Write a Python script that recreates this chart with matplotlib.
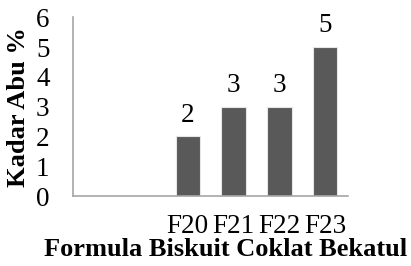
import matplotlib
matplotlib.use("Agg")
import matplotlib.pyplot as plt

categories = ["", "", "F20", "F21", "F22", "F23"]
values = [None, None, 2, 3, 3, 5]
value_labels = ["", "", "2", "3", "3", "5"]
y_ticks = [0, 1, 2, 3, 4, 5, 6]

plt.rcParams['font.family'] = ['Liberation Serif', 'DejaVu Serif']
FS = 19.5

fig = plt.figure(figsize=(4.11, 2.66), dpi=100)
ax = fig.add_axes([0.178, 0.263, 0.669, 0.672])

xs = list(range(len(categories)))
bx = [x for x, v in zip(xs, values) if v is not None]
bv = [v for v in values if v is not None]
ax.bar(bx, bv, width=0.53, color="#595959", edgecolor="#e6e6e6", linewidth=0.8)
for x, v, lab in zip(xs, values, value_labels):
    if v is not None:
        ax.text(x, v + 0.3, lab, ha="center", va="bottom", fontsize=FS)

ax.set_xlim(-0.5, len(categories) - 0.5)
ax.set_ylim(0, 6)
ax.set_xticks(xs)
ax.set_xticklabels(categories, fontsize=FS)
ax.set_yticks(y_ticks)
ax.set_yticklabels([str(t) for t in y_ticks], fontsize=FS)
ax.tick_params(length=0)
ax.tick_params(axis="x", pad=13)
ax.tick_params(axis="y", pad=17)
for s in ["top", "right"]:
    ax.spines[s].set_visible(False)
for s in ["left", "bottom"]:
    ax.spines[s].set_color("#a6a6a6")
    ax.spines[s].set_linewidth(1.2)

ax.set_xlabel("Formula Biskuit Coklat Bekatul", fontsize=19, fontweight="bold", va="center")
ax.xaxis.set_label_coords(0.553, -0.30)
ax.set_ylabel("Kadar Abu %", fontsize=19, fontweight="bold", va="center")
ax.yaxis.set_label_coords(-0.197, 0.5)

fig.savefig("out.png", dpi=100)
